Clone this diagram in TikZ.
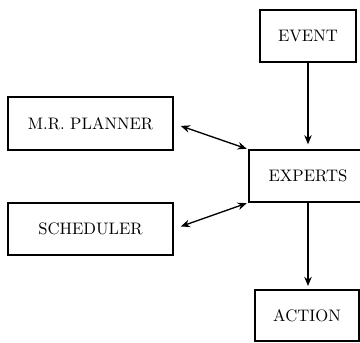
\documentclass[tikz,border=0pt]{standalone}
\usetikzlibrary{arrows.meta}
\begin{document}
\begin{tikzpicture}[x=0.6pt,y=-0.6pt,
  box/.style={draw,line width=0.8pt,rectangle,inner sep=0pt,font=\fontsize{10}{12}\selectfont},
  link/.style={line width=0.8pt,-{Stealth[length=5.5pt,width=4.5pt]}},
  dlink/.style={line width=0.8pt,{Stealth[length=5.5pt,width=4.5pt]}-{Stealth[length=5.5pt,width=4.5pt]}}]
  \useasboundingbox (0,0) rectangle (360,343);
  \node[box,minimum width=57.6pt,minimum height=31.2pt] (event) at (308,36) {EVENT};
  \node[box,minimum width=99pt,minimum height=31.8pt] (planner) at (90.5,123.5) {M.R. PLANNER};
  \node[box,minimum width=70.8pt,minimum height=31.2pt] (experts) at (308,176) {EXPERTS};
  \node[box,minimum width=99pt,minimum height=31.2pt] (sched) at (90.5,229) {SCHEDULER};
  \node[box,minimum width=62.4pt,minimum height=30.6pt] (action) at (307,315.5) {ACTION};
  \draw[link,shorten >=3pt] (event.south) -- (experts.north);
  \draw[link,shorten >=2pt] (experts.south) -- (experts.south |- action.north);
  \draw[dlink,shorten <=4.5pt,shorten >=1pt] (planner.east) -- (experts.north west);
  \draw[dlink,shorten <=4.5pt,shorten >=1pt] (sched.east) -- (experts.south west);
\end{tikzpicture}
\end{document}
